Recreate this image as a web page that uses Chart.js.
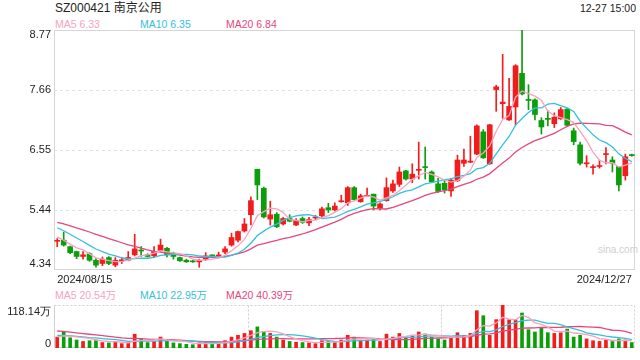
<!DOCTYPE html>
<html><head><meta charset="utf-8">
<script src="https://cdn.jsdelivr.net/npm/chart.js@4.4.1/dist/chart.umd.min.js"></script>
<style>
html,body{margin:0;padding:0;background:#fff;width:640px;height:360px;overflow:hidden;font-family:"Liberation Sans","Noto Sans CJK SC",Arial,sans-serif;}
.t{position:absolute;white-space:nowrap;line-height:1;}
#c1{position:absolute;left:0;top:0;}
#c2{position:absolute;left:0;top:288px;}
</style></head><body>
<div class="t" style="left:55px;top:2px;font-size:12px;color:#222">SZ000421 南京公用</div>
<div class="t" style="right:4px;top:3px;font-size:10.5px;color:#222">12-27 15:00</div>
<div class="t" style="left:55px;top:19px;font-size:10.5px;color:#f7a3c0">MA5 6.33</div>
<div class="t" style="left:140px;top:19px;font-size:10.5px;color:#35c0dc">MA10 6.35</div>
<div class="t" style="left:226px;top:19px;font-size:10.5px;color:#e8467c">MA20 6.84</div>
<div class="t" style="left:598px;top:245px;font-size:10px;color:#cfcfcf">sina.com</div>
<div class="t" style="left:55px;top:290px;font-size:10.5px;color:#f7a3c0">MA5 20.54万</div>
<div class="t" style="left:140px;top:290px;font-size:10.5px;color:#35c0dc">MA10 22.95万</div>
<div class="t" style="left:226px;top:290px;font-size:10.5px;color:#e8467c">MA20 40.39万</div>
<canvas id="c1" width="640" height="288"></canvas>
<canvas id="c2" width="640" height="72"></canvas>
<script>
const dates = ["2024/08/15","2024/08/16","2024/08/19","2024/08/20","2024/08/21","2024/08/22","2024/08/23","2024/08/26","2024/08/27","2024/08/28","2024/08/29","2024/08/30",
"2024/09/02","2024/09/03","2024/09/04","2024/09/05","2024/09/06","2024/09/09","2024/09/10","2024/09/11","2024/09/12","2024/09/13","2024/09/18","2024/09/19","2024/09/20","2024/09/23","2024/09/24","2024/09/25","2024/09/26","2024/09/27","2024/09/30",
"2024/10/08","2024/10/09","2024/10/10","2024/10/11","2024/10/14","2024/10/15","2024/10/16","2024/10/17","2024/10/18","2024/10/21","2024/10/22","2024/10/23","2024/10/24","2024/10/25","2024/10/28","2024/10/29","2024/10/30","2024/10/31",
"2024/11/01","2024/11/04","2024/11/05","2024/11/06","2024/11/07","2024/11/08","2024/11/11","2024/11/12","2024/11/13","2024/11/14","2024/11/15","2024/11/18","2024/11/19","2024/11/20","2024/11/21","2024/11/22","2024/11/25","2024/11/26","2024/11/27","2024/11/28","2024/11/29",
"2024/12/02","2024/12/03","2024/12/04","2024/12/05","2024/12/06","2024/12/09","2024/12/10","2024/12/11","2024/12/12","2024/12/13","2024/12/16","2024/12/17","2024/12/18","2024/12/19","2024/12/20","2024/12/23","2024/12/24","2024/12/25","2024/12/26","2024/12/27"];

const openP  = [4.87,4.89,4.77,4.68,4.59,4.64,4.52,4.46,4.57,4.43,4.51,4.52,4.62,4.70,4.62,4.60,4.70,4.74,4.65,4.57,4.52,4.50,4.49,4.54,4.61,4.60,4.67,4.80,4.89,5.06,5.36,
6.20,5.85,5.28,5.37,5.19,5.29,5.17,5.29,5.21,5.30,5.34,5.49,5.45,5.60,5.58,5.86,5.60,5.70,
5.74,5.48,5.62,5.80,5.92,6.17,6.02,6.18,6.24,6.15,5.93,5.94,5.80,5.99,6.31,6.33,6.48,6.89,6.30,7.67,7.41,
7.11,7.35,7.97,7.49,7.48,7.10,7.14,7.04,7.13,7.31,6.91,6.65,6.30,6.23,6.25,6.47,6.37,6.25,6.08,6.47];
const highP  = [4.92,5.04,4.78,4.69,4.68,4.66,4.55,4.58,4.59,4.57,4.57,4.68,5.00,4.77,4.64,4.77,4.91,4.76,4.67,4.58,4.54,4.52,4.54,4.66,4.62,4.67,4.77,5.02,5.06,5.29,5.69,
6.20,5.87,5.61,5.40,5.31,5.36,5.29,5.32,5.31,5.35,5.50,5.57,5.58,5.72,5.88,5.88,5.74,5.85,
5.74,5.58,6.04,6.00,6.24,6.18,6.30,6.70,6.61,6.17,6.03,6.00,6.03,6.46,6.57,6.81,7.02,6.93,7.03,7.75,8.32,
7.88,8.13,8.77,7.76,7.50,7.15,7.28,7.24,7.34,7.32,6.96,6.70,6.45,6.28,6.37,6.60,6.43,6.25,6.48,6.48];
const lowP   = [4.77,4.78,4.64,4.55,4.54,4.50,4.39,4.42,4.44,4.40,4.46,4.51,4.60,4.59,4.58,4.58,4.68,4.58,4.54,4.50,4.48,4.48,4.39,4.52,4.58,4.56,4.64,4.78,4.86,5.04,5.17,
5.64,5.30,5.17,5.12,5.17,5.23,5.16,5.20,5.16,5.27,5.31,5.40,5.43,5.59,5.53,5.63,5.59,5.70,
5.45,5.45,5.61,5.77,5.88,6.00,5.95,6.02,6.02,5.96,5.77,5.76,5.70,5.97,6.25,6.32,6.47,6.40,6.29,7.27,7.14,
7.10,7.02,7.57,7.30,7.11,6.85,7.00,6.97,7.12,7.00,6.65,6.28,6.24,6.11,6.22,6.30,6.15,5.80,6.00,6.44];
const closeP = [4.88,4.80,4.66,4.59,4.62,4.52,4.43,4.54,4.46,4.52,4.52,4.57,4.73,4.69,4.59,4.68,4.80,4.62,4.59,4.51,4.49,4.49,4.52,4.60,4.60,4.61,4.73,4.94,5.05,5.19,5.62,
5.91,5.32,5.36,5.14,5.29,5.24,5.26,5.22,5.27,5.31,5.47,5.45,5.52,5.61,5.86,5.64,5.71,5.71,
5.52,5.56,5.86,5.93,6.15,6.02,6.11,6.19,6.23,5.97,5.79,5.82,6.00,6.37,6.37,6.35,7.00,6.41,7.02,7.72,7.44,
7.36,8.11,7.59,7.47,7.21,6.98,7.12,7.16,7.30,7.01,6.71,6.31,6.31,6.24,6.26,6.48,6.31,5.91,6.43,6.45];
// volume in 万 (10k shares)
const volumes = [30,45,28,22,18,20,22,15,14,16,12,14,38,25,15,18,30,22,14,12,10,9,14,15,12,13,20,30,35,40,47.5,
58,45,40,30,22,18,16,15,14,12,20,18,16,22,35,30,20,22,
25,18,38,30,40,32,35,44,38.5,30,25,22,30,42,35,40,102.5,88.7,35,77.8,118.14,
77.8,77.8,96.2,50.3,44,55,42,40,42,52,30,35,25,20,18,22,18,25,22,15];
// closes / volumes of the 19 sessions before the first date (needed for the moving averages)
const prevCloses  = [5.40,5.38,5.35,5.30,5.33,5.28,5.30,5.27,5.31,5.28,5.35,5.32,5.28,5.25,5.25,5.10,5.02,4.93,4.82];
const prevVolumes = [70,66,62,58,56,60,56,52,52,57,42,40,38,36,35,33,32,30,29];

const priceTickLabels = ["4.34","5.44","6.55","7.66","8.77"];
const priceMin = 4.34, priceMax = 8.77;
const volTickLabels = ["0","118.14万"];
const volMax = 118.14;

const RED = '#f21c1c', GREEN = '#0b9e0b';
const C_MA5 = '#f7a3c0', C_MA10 = '#35c0dc', C_MA20 = '#e8467c';

function movingAvg(prev, arr, n){
  const all = prev.concat(arr);
  return arr.map((_, i) => {
    const j = i + prev.length;
    if (j - n + 1 < 0) return null;
    let s = 0; for (let k = j - n + 1; k <= j; k++) s += all[k];
    return s / n;
  });
}
const N = dates.length;
const up = closeP.map((c, i) => c > openP[i] || (c === openP[i] && (i === 0 || c >= closeP[i-1])));
const candleColor = up.map(u => u ? RED : GREEN);

Chart.defaults.font.family = '"Liberation Sans", Arial, sans-serif';
Chart.defaults.animation = false;

const framePlugin = {
  id: 'frame',
  beforeDatasetsDraw(chart, args, opts) {
    const a = chart.chartArea, ctx = chart.ctx;
    ctx.save();
    ctx.lineWidth = 1;
    const L = Math.round(a.left) + 0.5, R = Math.round(a.right) - 0.5, T = Math.round(a.top) + 0.5, B = Math.round(a.bottom) - 0.5;
    if (opts.mode === 'main') {
      ctx.strokeStyle = '#d6d6d6';
      ctx.strokeRect(L, T, R - L, B - T);
    } else {
      ctx.strokeStyle = '#d0d0d0';
      ctx.beginPath(); ctx.moveTo(L, T); ctx.lineTo(L, B); ctx.lineTo(R, B); ctx.stroke();
      ctx.setLineDash([2, 2]);
      ctx.beginPath(); ctx.moveTo(L, T); ctx.lineTo(R, T); ctx.lineTo(R, B); ctx.stroke();
      const w = a.right - a.left;
      [1/3, 2/3].forEach(f => { const x = Math.round(a.left + w * f) + 0.5; ctx.beginPath(); ctx.moveTo(x, T); ctx.lineTo(x, B); ctx.stroke(); });
    }
    ctx.restore();
  }
};

const lineDs = (data, color) => ({ type: 'line', data, borderColor: color, borderWidth: 1.3, pointRadius: 0, tension: 0, order: 0, spanGaps: true });

new Chart(document.getElementById('c1'), {
  type: 'bar',
  data: {
    labels: dates,
    datasets: [
      lineDs(movingAvg(prevCloses, closeP, 5), C_MA5),
      lineDs(movingAvg(prevCloses, closeP, 10), C_MA10),
      lineDs(movingAvg(prevCloses, closeP, 20), C_MA20),
      { data: lowP.map((l, i) => [l, highP[i]]), backgroundColor: candleColor, barThickness: 1, grouped: false, order: 2, borderWidth: 0 },
      { data: openP.map((o, i) => [o, closeP[i]]), backgroundColor: candleColor, barThickness: 5, minBarLength: 1, grouped: false, order: 1, borderWidth: 0 }
    ]
  },
  options: {
    responsive: false, devicePixelRatio: 1,
    layout: { padding: { top: 30, right: 5, left: 0, bottom: 0 } },
    plugins: { legend: { display: false }, tooltip: { enabled: false }, frame: { mode: 'main' } },
    scales: {
      x: {
        offset: true,
        grid: { display: false, drawTicks: false },
        border: { display: false },
        ticks: { autoSkip: false, maxRotation: 0, minRotation: 0, align: 'inner', padding: 3, color: '#222', font: { size: 11 },
          callback: (v, i) => (i === 0 || i === N - 1) ? dates[i] : '' },
        afterFit: s => { s.height = 18; }
      },
      y: {
        min: priceMin, max: priceMax,
        afterBuildTicks: s => {
          const step = (priceMax - priceMin) / (priceTickLabels.length - 1);
          s.ticks = priceTickLabels.map((_, k) => ({ value: priceMin + k * step + (k === 0 ? 0.11 : 0) - (k === priceTickLabels.length - 1 ? 0.095 : 0) }));
        },
        ticks: { padding: 3, color: '#222', font: { size: 11 }, callback: (v, i) => priceTickLabels[i] },
        grid: { drawTicks: false, color: c => (c.index === 0 || c.index === priceTickLabels.length - 1) ? 'rgba(0,0,0,0)' : '#e2e2e2' },
        border: { display: false, dash: [3, 3] },
        afterFit: s => { s.width = 54; }
      }
    }
  },
  plugins: [framePlugin]
});

new Chart(document.getElementById('c2'), {
  type: 'bar',
  data: {
    labels: dates,
    datasets: [
      lineDs(movingAvg(prevVolumes, volumes, 5), C_MA5),
      lineDs(movingAvg(prevVolumes, volumes, 10), C_MA10),
      lineDs(movingAvg(prevVolumes, volumes, 20), C_MA20),
      { data: volumes, backgroundColor: candleColor, barThickness: 3, grouped: false, order: 1, borderWidth: 0 }
    ]
  },
  options: {
    responsive: false, devicePixelRatio: 1,
    layout: { padding: { top: 17, right: 5, left: 0, bottom: 12 } },
    plugins: { legend: { display: false }, tooltip: { enabled: false }, frame: { mode: 'vol' } },
    scales: {
      x: { display: false, offset: true },
      y: {
        min: 0, max: volMax,
        afterBuildTicks: s => { s.ticks = [{ value: volMax * 0.1 }, { value: volMax * 0.84 }]; },
        ticks: { padding: 3, color: '#222', font: { size: 11 }, callback: (v, i) => volTickLabels[i] },
        grid: { display: false, drawTicks: false },
        border: { display: false },
        afterFit: s => { s.width = 54; }
      }
    }
  },
  plugins: [framePlugin]
});
</script>
</body></html>
